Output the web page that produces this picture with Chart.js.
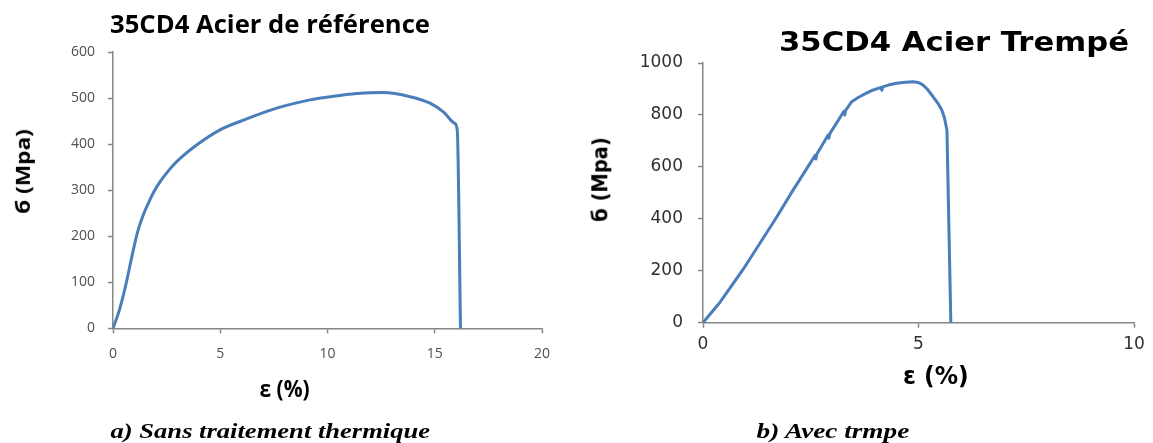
<!DOCTYPE html>
<html>
<head>
<meta charset="utf-8">
<script src="https://cdn.jsdelivr.net/npm/chart.js@4.4.1/dist/chart.umd.min.js"></script>
<style>
  body { margin: 0; background: #fff; width: 1153px; height: 443px; overflow: hidden; position: relative; }
  canvas { position: absolute; top: 0; }
  .t { position: absolute; white-space: nowrap; line-height: 1; color: #000; transform-origin: center; }
</style>
</head>
<body>
<canvas id="cRef" style="left:0"></canvas>
<canvas id="cTrempe" style="left:576px"></canvas>

<div class="t" data-x="270" data-y="23" data-w="320" style="font: bold 25px 'Open Sans'">35CD4 Acier de référence</div>
<div class="t" data-x="22" data-y="171" data-w="85" data-r="1" style="font: bold 20px 'Open Sans'">б (Mpa)</div>
<div class="t" data-x="284" data-y="388" data-w="50" style="font: bold 23px 'Open Sans'">ε (%)</div>

<div class="t" data-x="954" data-y="41.5" data-w="350" style="font: bold 27px 'DejaVu Sans'">35CD4 Acier Trempé</div>
<div class="t" data-x="600" data-y="179.5" data-w="85" data-r="1" style="font: bold 22px 'DejaVu Sans'">б (Mpa)</div>
<div class="t" data-x="936" data-y="376" data-w="66" style="font: bold 24px 'DejaVu Sans'">ε (%)</div>

<div class="t" data-x="270" data-y="431" data-w="320" style="font: italic bold 21px 'Liberation Serif'">a) Sans traitement thermique</div>
<div class="t" data-x="833" data-y="431" data-w="153" style="font: italic bold 21px 'Liberation Serif'">b) Avec trmpe</div>

<script>
// a) steel without heat treatment
const refStrain = [0, 0.3, 0.6, 0.9, 1.15, 1.4, 1.65, 1.9, 2.19, 2.6, 2.97, 3.9, 4.99, 6.08, 7.63, 9.18, 10.12, 11.36, 12.6, 13.85, 14.78, 15.4, 15.93, 16.05, 16.2];
const refStress = [0, 40, 95, 160, 210, 245, 272, 296, 318, 343, 362, 398, 431, 452, 478, 496, 503, 510, 512, 503, 489, 470, 445, 430, 0];
const refXTicks = [0, 5, 10, 15, 20];
const refYTicks = [0, 100, 200, 300, 400, 500, 600];

// b) quenched steel (small notches on the loading branch)
const trempeStrain = [0, 0.4, 0.93, 1.7, 2.05, 2.45, 2.6, 2.62, 2.64, 2.9, 2.92, 2.94, 3.27, 3.29, 3.31, 3.45, 3.6, 3.71, 3.9, 4.13, 4.15, 4.17, 4.3, 4.49, 4.7, 4.87, 5.0, 5.1, 5.2, 5.34, 5.45, 5.54, 5.6, 5.66, 5.75];
const trempeStress = [0, 80, 205, 404, 500, 605, 644, 630, 649, 722, 710, 727, 814, 800, 818, 851, 867, 877, 893, 906, 895, 908, 915, 922, 926, 928, 925, 916, 900, 870, 845, 819, 790, 742, 0];
const trempeXTicks = [0, 5, 10];
const trempeYTicks = [0, 200, 400, 600, 800, 1000];

const BLUE = '#4a7ebb';
const AXIS = '#868686';

function axis(values, o) {
  return {
    type: 'linear',
    min: values[0],
    max: values[values.length - 1],
    afterBuildTicks: s => { s.ticks = values.map(v => ({ value: v })); },
    afterFit: o.fit,
    grid: { drawOnChartArea: false, tickLength: 5, tickColor: AXIS, tickWidth: 1.5 },
    border: { color: AXIS, width: 1.5 },
    ticks: { font: o.font, color: o.color, padding: o.pad, maxRotation: 0, callback: v => String(v) },
  };
}

function stressChart(id, w, strain, stress, xt, yt, o) {
  const canvas = document.getElementById(id);
  canvas.width = w; canvas.height = 443;
  canvas.style.width = w + 'px'; canvas.style.height = '443px';
  return new Chart(canvas, {
    type: 'line',
    data: {
      datasets: [{
        data: strain.map((e, i) => ({ x: e, y: stress[i] })),
        borderColor: BLUE,
        borderWidth: 3,
        borderJoinStyle: 'round',
        pointRadius: 0,
        cubicInterpolationMode: o.smooth ? 'monotone' : 'default',
        tension: 0,
        fill: false,
      }],
    },
    options: {
      responsive: false,
      animation: false,
      layout: { padding: o.padding },
      plugins: { legend: { display: false }, tooltip: { enabled: false } },
      scales: {
        x: axis(xt, { font: o.font, color: o.color, pad: o.xpad, fit: s => { s.height = o.xh; } }),
        y: axis(yt, { font: o.font, color: o.color, pad: o.ypad, fit: s => { s.width = o.yw; } }),
      },
    },
  });
}

stressChart('cRef', 576, refStrain, refStress, refXTicks, refYTicks, {
  smooth: true,
  padding: { top: 52, right: 34, left: 0, bottom: 0 },
  font: { family: 'Open Sans', size: 14 }, color: '#505050',
  xh: 114.7, yw: 113, xpad: 12, ypad: 13,
});

stressChart('cTrempe', 577, trempeStrain, trempeStress, trempeXTicks, trempeYTicks, {
  smooth: false,
  padding: { top: 63, right: 19, left: 0, bottom: 0 },
  font: { family: 'DejaVu Sans', size: 17 }, color: '#303030',
  xh: 120.3, yw: 127, xpad: 7, ypad: 15,
});

// place the text labels (titles, axis titles, captions), stretched to the reference widths
document.querySelectorAll('.t').forEach(el => {
  const k = el.dataset.w / el.offsetWidth;
  el.style.left = (el.dataset.x - el.offsetWidth / 2) + 'px';
  el.style.top = (el.dataset.y - el.offsetHeight / 2) + 'px';
  el.style.transform = (el.dataset.r ? 'rotate(-90deg) ' : '') + `scaleX(${k})`;
});
</script>
</body>
</html>
